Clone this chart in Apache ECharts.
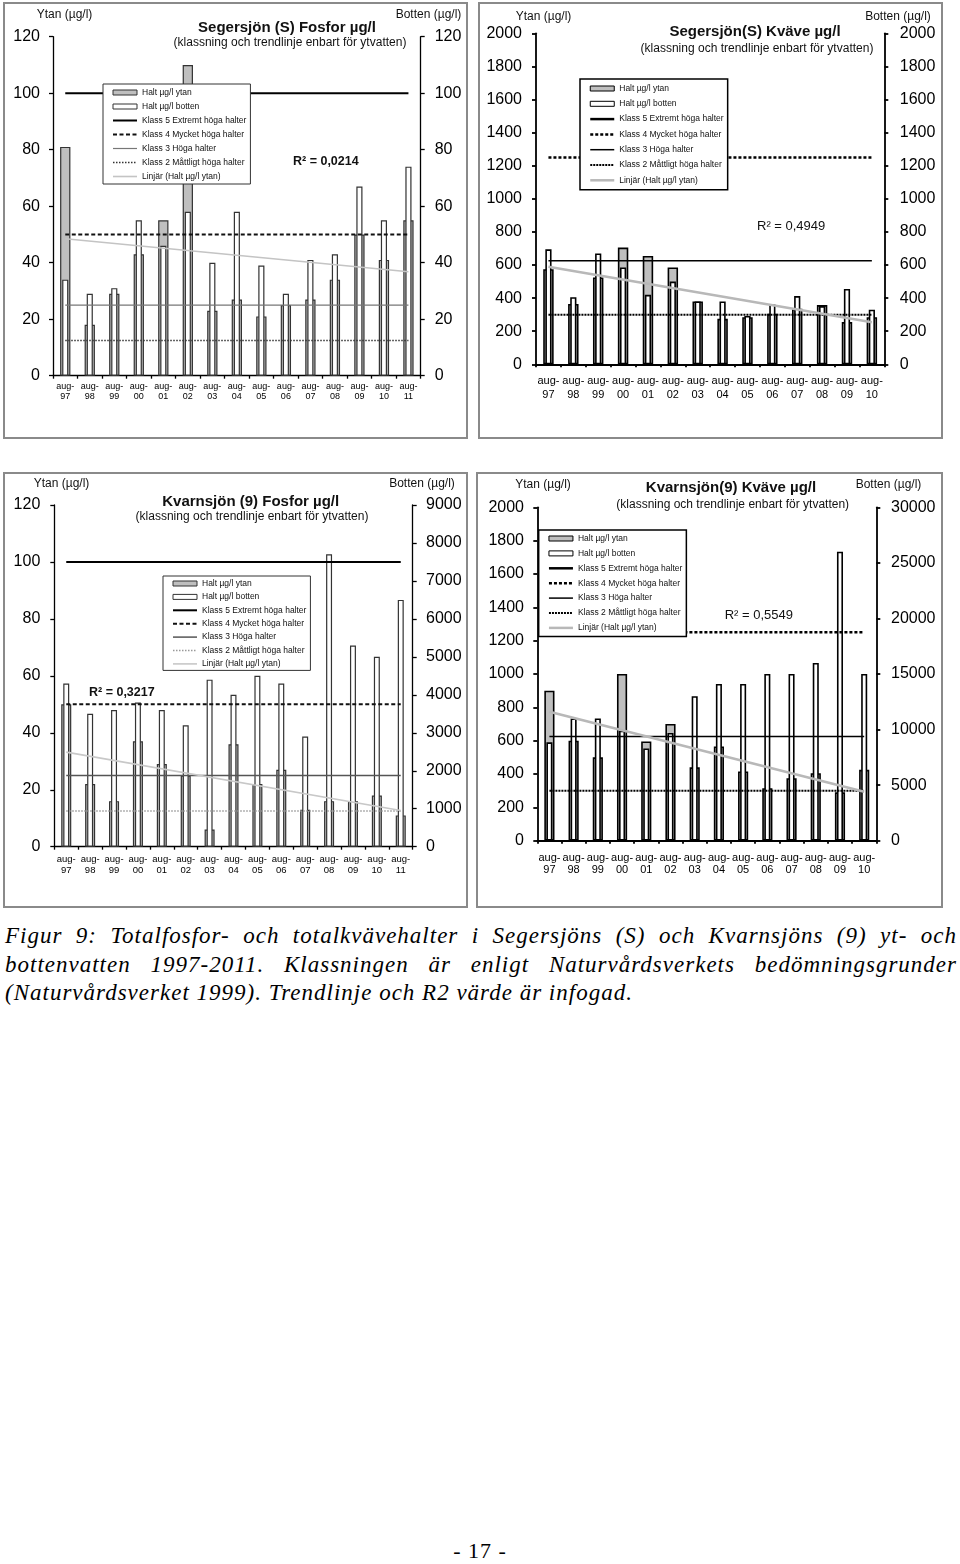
<!DOCTYPE html>
<html><head><meta charset="utf-8">
<script src="https://cdn.jsdelivr.net/npm/echarts@6/dist/echarts.min.js"></script>
<style>
html,body{margin:0;padding:0;background:#fff}
body{width:960px;height:1564px;position:relative;overflow:hidden}
.box{position:absolute;border:2px solid #8a8a8a;box-sizing:border-box}
.chart{position:absolute}
.cap{position:absolute;left:5px;width:952px;font-family:"Liberation Serif","Times New Roman",serif;font-style:italic;font-size:23px;line-height:28.5px;color:#000;letter-spacing:1px}
.cap div{text-align:justify;text-align-last:justify;white-space:nowrap}
.cap div.last{text-align:left;text-align-last:left}
.pg{position:absolute;left:0;width:960px;top:1538px;text-align:center;font-family:"Liberation Serif","Times New Roman",serif;font-size:22px;letter-spacing:1px}
</style></head><body>
<div class="box" style="left:3px;top:2px;width:465px;height:437px"></div>
<div id="c1" class="chart" style="left:3px;top:2px;width:465px;height:437px"></div>
<div class="box" style="left:478px;top:2px;width:465px;height:437px"></div>
<div id="c2" class="chart" style="left:478px;top:2px;width:465px;height:437px"></div>
<div class="box" style="left:3px;top:472px;width:465px;height:436px"></div>
<div id="c3" class="chart" style="left:3px;top:472px;width:465px;height:436px"></div>
<div class="box" style="left:476px;top:472px;width:467px;height:436px"></div>
<div id="c4" class="chart" style="left:476px;top:472px;width:467px;height:436px"></div>
<div class="cap" style="top:922px">
<div>Figur 9: Totalfosfor- och totalkvävehalter i Segersjöns (S) och Kvarnsjöns (9) yt- och</div>
<div>bottenvatten 1997-2011. Klassningen är enligt Naturvårdsverkets bedömningsgrunder</div>
<div class="last">(Naturvårdsverket 1999). Trendlinje och R2 värde är infogad.</div>
</div>
<div class="pg">- 17 -</div>
<script>
// ---------- data ----------
const catsFosfor = ['aug-97','aug-98','aug-99','aug-00','aug-01','aug-02','aug-03','aug-04','aug-05','aug-06','aug-07','aug-08','aug-09','aug-10','aug-11'];
const catsKvave = ['aug-97','aug-98','aug-99','aug-00','aug-01','aug-02','aug-03','aug-04','aug-05','aug-06','aug-07','aug-08','aug-09','aug-10'];

const segFosforYtan   = [81, 18, 29, 43, 55, 110, 23, 27, 21, 25, 27, 34, 50, 41, 55];
const segFosforBotten = [34, 29, 31, 55, 46, 58, 40, 58, 39, 29, 41, 43, 67, 55, 74];
const segKvaveYtan    = [575, 365, 525, 705, 655, 585, 380, 275, 285, 305, 335, 358, 255, 285];
const segKvaveBotten  = [695, 405, 670, 585, 420, 500, 380, 380, 292, 362, 412, 352, 455, 330];
const kvaFosforYtan   = [50, 22, 16, 37, 29, 25, 6, 36, 22, 27, 13, 16, 16, 18, 11];
const kvaFosforBotten = [4300, 3500, 3600, 3800, 3600, 3200, 4400, 4000, 4500, 4300, 2900, 7700, 5300, 5000, 6500];
const kvaKvaveYtan    = [900, 600, 500, 1000, 595, 700, 440, 565, 415, 315, 375, 405, 290, 425];
const kvaKvaveBotten  = [8850, 11000, 11000, 9900, 8300, 9700, 13000, 14100, 14100, 15000, 15000, 16000, 26000, 15000];

// class limits: Klass 5, 4, 3, 2
const klassFosfor = [100, 50, 25, 12.5];
const klassKvave  = [5000, 1250, 625, 300];

// linear trend (Linjär) start / end values
const trendSegFosfor = [48.5, 36.8];
const trendSegKvave  = [590, 254];
const trendKvaFosfor = [33.2, 12.7];
const trendKvaKvave  = [774, 294];

const r2Texts = ['R² = 0,0214', 'R² = 0,4949', 'R² = 0,3217', 'R² = 0,5549'];

// axis scales [min, max, interval]
const ytanFosforAxis = [0, 120, 20];
const ytanKvaveAxis  = [0, 2000, 200];
const segFosforBottenAxis = [0, 120, 20];
const segKvaveBottenAxis  = [0, 2000, 200];
const kvaFosforBottenAxis = [0, 9000, 1000];
const kvaKvaveBottenAxis  = [0, 30000, 5000];

const legendNames = ['Halt µg/l ytan','Halt µg/l botten','Klass 5 Extremt höga halter','Klass 4 Mycket höga halter','Klass 3 Höga halter','Klass 2 Måttligt höga halter','Linjär (Halt µg/l ytan)'];
const titles = ['Segersjön (S) Fosfor µg/l','Segersjön(S) Kväve µg/l','Kvarnsjön (9) Fosfor µg/l','Kvarnsjön(9) Kväve µg/l'];
const subTitle = '(klassning och trendlinje enbart för ytvatten)';
const ytanLabel = 'Ytan (µg/l)', bottenLabel = 'Botten (µg/l)';

// ---------- builder ----------
const FONT = '"Liberation Sans", Arial, Helvetica, sans-serif';
function txt(x, y, text, size, weight, align) {
  return {type:'text', x:x, y:y, z:10, silent:true,
    style:{text:text, fontSize:size, fontWeight:weight||'normal', fontFamily:FONT, fill:'#111',
      align:align||'center', textAlign:align||'center', verticalAlign:'middle', textVerticalAlign:'middle'}};
}
function build(o) {
  const cats = o.cats, n = cats.length;
  const span = v => [[cats[0], v], [cats[n-1], v]];
  const axisLine = {show:true, lineStyle:{color:'#000', width:o.axisW}};
  const yCommon = {type:'value', splitLine:{show:false}, axisLine:axisLine,
    axisTick:{show:true, inside:false, length:4, lineStyle:{color:'#000', width:o.axisW}}};
  const lineSer = (name, data, ls) => ({name:name, type:'line', xAxisIndex:0, yAxisIndex:0, data:data,
    symbol:'none', showSymbol:false, silent:true, clip:true, lineStyle:ls, itemStyle:{color:ls.color}, z:3});
  const noSym = {opacity:0};
  return {
    animation:false,
    textStyle:{fontFamily:FONT},
    grid:o.grid,
    xAxis:[
      {type:'category', data:cats, boundaryGap:true, axisLine:axisLine,
       axisTick:{show:true, length:3, interval:0, lineStyle:{color:'#000', width:o.axisW}},
       axisLabel:{interval:0, fontSize:o.xFont, lineHeight:o.xLH, margin:o.xMargin, color:'#000',
         formatter:v => v.replace('-', '-\n')},
       splitLine:{show:false}},
      {type:'category', data:cats, boundaryGap:true, show:false}
    ],
    yAxis:[
      Object.assign({}, yCommon, {position:'left', min:o.yL[0], max:o.yL[1], interval:o.yL[2],
        axisLabel:{fontSize:16, margin:o.yLM, color:'#000', formatter:v => String(v)}}),
      Object.assign({}, yCommon, {position:'right', min:o.yR[0], max:o.yR[1], interval:o.yR[2],
        axisLabel:{fontSize:16, margin:o.yRM, color:'#000', formatter:v => String(v)}})
    ],
    legend:{orient:'vertical', left:o.leg.left, top:o.leg.top, padding:o.leg.pad, itemGap:o.leg.gap,
      itemWidth:24, itemHeight:5, backgroundColor:'#fff', borderColor:o.leg.bc, borderWidth:o.leg.bw,
      selectedMode:false, z:5, textStyle:{fontSize:8.5, color:'#111', fontFamily:FONT},
      itemStyle:{borderWidth:1},
      data:[
        {name:legendNames[0], icon:'rect'},
        {name:legendNames[1], icon:'rect'},
        {name:legendNames[2], lineStyle:{width:o.k5.width}, itemStyle:noSym},
        {name:legendNames[3], lineStyle:{width:o.k4.width}, itemStyle:noSym},
        {name:legendNames[4], lineStyle:{width:o.k3.width}, itemStyle:noSym},
        {name:legendNames[5], lineStyle:{width:o.k2.width}, itemStyle:noSym},
        {name:legendNames[6], lineStyle:{width:o.tr.width}, itemStyle:noSym}
      ]},
    series:[
      {name:legendNames[0], type:'bar', xAxisIndex:0, yAxisIndex:0, data:o.ytan, barWidth:'42%', silent:true,
       itemStyle:{color:'#bfbfbf', borderColor:o.barBorder, borderWidth:o.barBW}},
      {name:legendNames[1], type:'bar', xAxisIndex:1, yAxisIndex:1, data:o.botten, barWidth:'25%', silent:true,
       itemStyle:{color:'#ffffff', borderColor:o.barBorder, borderWidth:o.barBW}},
      lineSer(legendNames[2], span(o.klass[0]), o.k5),
      lineSer(legendNames[3], span(o.klass[1]), o.k4),
      lineSer(legendNames[4], span(o.klass[2]), o.k3),
      lineSer(legendNames[5], span(o.klass[3]), o.k2),
      lineSer(legendNames[6], [[cats[0], o.trend[0]], [cats[n-1], o.trend[1]]], o.tr)
    ],
    graphic:o.texts
  };
}

// ---------- charts ----------
const configs = [
  {el:'c1', cats:catsFosfor, ytan:segFosforYtan, botten:segFosforBotten, klass:klassFosfor, trend:trendSegFosfor,
   yL:ytanFosforAxis, yR:segFosforBottenAxis,
   grid:{left:50, right:47.3, top:34.7, bottom:63.3},
   axisW:1.3, xFont:9, xLH:10, xMargin:6, yLM:13, yRM:14,
   barBorder:'#333', barBW:1.2,
   k5:{color:'#000', width:2, type:'solid'}, k4:{color:'#111', width:2, type:[4,2.5]},
   k3:{color:'#777', width:1.2, type:'solid'}, k2:{color:'#333', width:1.5, type:[1.5,1.5]},
   tr:{color:'#c4c4c4', width:1.6, type:'solid'},
   leg:{left:100, top:82, pad:[4,4,3,9], gap:5, bc:'#333', bw:1},
   texts:[txt(61.5,13,ytanLabel,12), txt(425.5,13,bottenLabel,12), txt(284,26,titles[0],15,'bold'),
          txt(287,41,subTitle,12), txt(290,160,r2Texts[0],12.5,'bold','left')]},
  {el:'c2', cats:catsKvave, ytan:segKvaveYtan, botten:segKvaveBotten, klass:klassKvave, trend:trendSegKvave,
   yL:ytanKvaveAxis, yR:segKvaveBottenAxis,
   grid:{left:58, right:58.7, top:31.3, bottom:74.7},
   axisW:1.8, xFont:11, xLH:13.3, xMargin:10.5, yLM:14, yRM:15.5,
   barBorder:'#000', barBW:1.6,
   k5:{color:'#000', width:2.5, type:'solid'}, k4:{color:'#000', width:2.5, type:[3,2]},
   k3:{color:'#000', width:1.5, type:'solid'}, k2:{color:'#000', width:2, type:[2,1]},
   tr:{color:'#b8b8b8', width:2.5, type:'solid'},
   leg:{left:102, top:77, pad:[5,4,5,9], gap:6.3, bc:'#000', bw:1.5},
   texts:[txt(65.5,15,ytanLabel,12), txt(420,15,bottenLabel,12), txt(277,30,titles[1],15,'bold'),
          txt(279,47,subTitle,12), txt(279,224,r2Texts[1],13,'normal','left')]},
  {el:'c3', cats:catsFosfor, ytan:kvaFosforYtan, botten:kvaFosforBotten, klass:klassFosfor, trend:trendKvaFosfor,
   yL:ytanFosforAxis, yR:kvaFosforBottenAxis,
   grid:{left:51.3, right:55.3, top:33, bottom:61.3},
   axisW:1.3, xFont:9.5, xLH:10.7, xMargin:7.5, yLM:14, yRM:13.3,
   barBorder:'#333', barBW:1.2,
   k5:{color:'#000', width:2, type:'solid'}, k4:{color:'#111', width:2, type:[4,2.5]},
   k3:{color:'#555', width:1.5, type:'solid'}, k2:{color:'#999', width:1.5, type:[1.5,1.5]},
   tr:{color:'#c8c8c8', width:1.6, type:'solid'},
   leg:{left:160, top:104, pad:[3,4,2,9], gap:4.4, bc:'#333', bw:1},
   texts:[txt(58.5,12,ytanLabel,12), txt(419,12,bottenLabel,12), txt(247.7,29.7,titles[2],15,'bold'),
          txt(249,44.7,subTitle,12), txt(86,220.7,r2Texts[2],12.5,'bold','left')]},
  {el:'c4', cats:catsKvave, ytan:kvaKvaveYtan, botten:kvaKvaveBotten, klass:klassKvave, trend:trendKvaKvave,
   yL:ytanKvaveAxis, yR:kvaKvaveBottenAxis,
   grid:{left:61.3, right:66.7, top:35.3, bottom:67.3},
   axisW:1.8, xFont:11, xLH:12.7, xMargin:10.5, yLM:13.3, yRM:14.7,
   barBorder:'#000', barBW:1.6,
   k5:{color:'#000', width:2.5, type:'solid'}, k4:{color:'#000', width:2.5, type:[3,2]},
   k3:{color:'#000', width:1.5, type:'solid'}, k2:{color:'#000', width:2, type:[2,1]},
   tr:{color:'#b8b8b8', width:2.5, type:'solid'},
   leg:{left:62.7, top:58, pad:[4,4,4,9], gap:5.9, bc:'#000', bw:1.5},
   texts:[txt(67,13,ytanLabel,12), txt(412.5,13,bottenLabel,12), txt(255,16.3,titles[3],15,'bold'),
          txt(256.7,33,subTitle,12), txt(248.7,143,r2Texts[3],13,'normal','left')]}
];
configs.forEach(c => {
  const chart = echarts.init(document.getElementById(c.el), null, {renderer:'canvas'});
  chart.setOption(build(c));
});
</script>
</body></html>
